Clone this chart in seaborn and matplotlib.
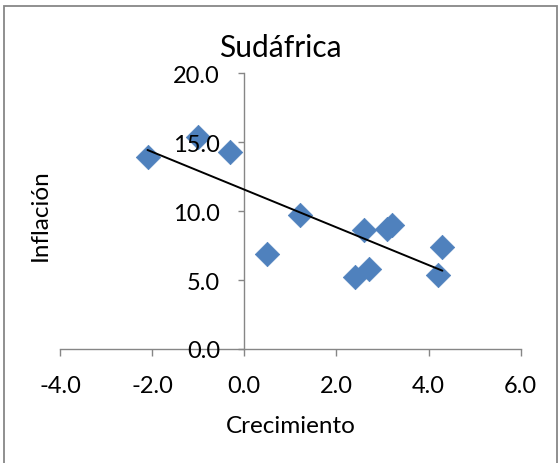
import numpy as np
import pandas as pd
import matplotlib
matplotlib.use("Agg")
import matplotlib.pyplot as plt
import seaborn as sns
from matplotlib.patches import Rectangle

# Growth vs. inflation, South Africa
crecimiento = [-2.1, -1.0, -0.3, 0.5, 1.2, 2.6, 3.1, 3.2, 2.4, 2.7, 4.3, 4.2]
inflacion = [13.9, 15.4, 14.3, 6.9, 9.7, 8.6, 8.7, 9.0, 5.2, 5.8, 7.4, 5.4]

x_ticks = [-4.0, -2.0, 0.0, 2.0, 4.0, 6.0]
y_ticks = [0.0, 5.0, 10.0, 15.0, 20.0]

titulo = "Sudáfrica"
etiqueta_x = "Crecimiento"
etiqueta_y = "Inflación"

df = pd.DataFrame({"Crecimiento": crecimiento, "Inflación": inflacion})

sns.set_theme(style="white")
plt.rcParams["font.family"] = ["Lato", "DejaVu Sans"]

W, H = 558, 464
fig = plt.figure(figsize=(W / 100, H / 100), dpi=100)
fig.patch.set_facecolor("white")

# outer chart border
fig.patches.append(Rectangle((4 / W, -0.02), 552.5 / W, 1.02 - 7 / H,
                             transform=fig.transFigure, fill=False,
                             edgecolor="#878787", linewidth=1.3))

ax = fig.add_axes([60 / W, 114 / H, 460.7 / W, 275.7 / H])
ax.set_facecolor("white")
# axis (tick labels) drawn above the markers
ax.set_axisbelow(False)

sns.scatterplot(data=df, x="Crecimiento", y="Inflación", marker="D", s=155,
                color="#4F81BD", edgecolor="#4F81BD", linewidth=0.5,
                ax=ax, zorder=2)
sns.regplot(data=df, x="Crecimiento", y="Inflación", scatter=False, ci=None,
            truncate=True, color="black", line_kws={"linewidth": 1.4, "zorder": 4},
            ax=ax)

ax.set_xlim(-4, 6)
ax.set_ylim(0, 20)
ax.set_xticks(x_ticks)
ax.set_yticks(y_ticks)
ax.set_xticklabels([f"{v:.1f}" for v in x_ticks])
ax.set_yticklabels([f"{v:.1f}" for v in y_ticks])

gray = "#868686"
for side in ("top", "right"):
    ax.spines[side].set_visible(False)
ax.spines["left"].set_position(("data", 0))
ax.spines["bottom"].set_position(("data", 0))
for side in ("left", "bottom"):
    ax.spines[side].set_color(gray)
    ax.spines[side].set_linewidth(1.0)

ax.tick_params(axis="x", direction="out", length=5, width=1.0, color=gray,
               pad=13.5, labelsize=17, labelcolor="black", bottom=True)
ax.tick_params(axis="y", direction="out", length=4.5, width=1.0, color=gray,
               pad=13, labelsize=17, labelcolor="black", left=True)
ax.grid(False)

ax.set_xlabel(etiqueta_x, fontsize=17.5, color="black")
ax.set_ylabel(etiqueta_y, fontsize=17.5, color="black")
ax.xaxis.set_label_coords(0.5, -0.24)
ax.yaxis.set_label_coords(-0.02, 0.49)

ax.set_title(titulo, fontsize=21.5, color="black", x=(280 - 60) / 460.7,
             y=(350 - 57) / 275.7, pad=0, va="baseline")

fig.savefig("out.png", dpi=100, facecolor="white")
